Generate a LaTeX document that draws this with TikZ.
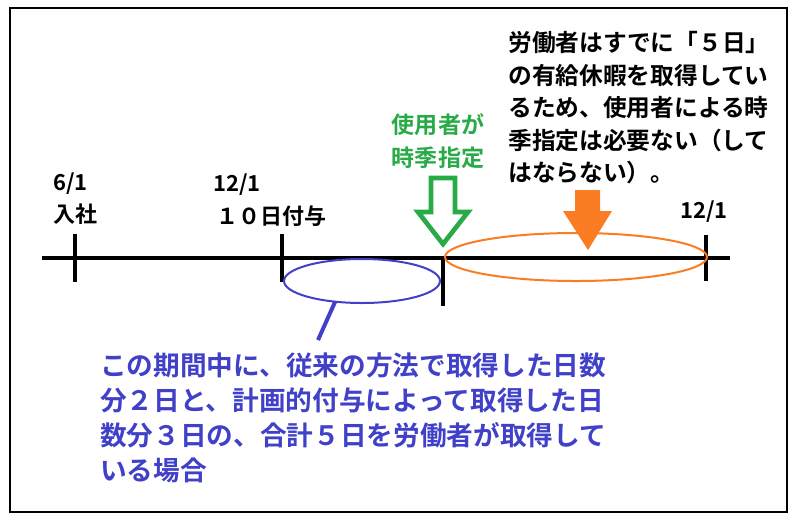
\documentclass[tikz,border=0pt]{standalone}
\usepackage{fontspec}
\newfontfamily\cjk{Noto Sans CJK JP}[BoldFont={Noto Sans CJK JP Bold}]
\definecolor{myblue}{RGB}{64,64,200}
\definecolor{mygreen}{RGB}{40,170,70}
\definecolor{myorange}{RGB}{250,125,35}
\begin{document}
\begin{tikzpicture}[x=0.75pt,y=-0.75pt,
  txt/.style={font=\cjk\bfseries\fontsize{16.5}{23}\selectfont,inner sep=0pt},
  tick/.style={line width=3pt}]
\useasboundingbox (0,0) rectangle (800,526);
\draw[line width=0.8pt] (10,8) rectangle (787,512);
\draw[line width=3pt] (42,258) coordinate (L) -- (730,258) coordinate (R);
\draw[tick] (75,234) -- (75,282);
\draw[tick] (282,234) -- (282,282);
\draw[tick] (443,258) -- (443,306);
\draw[tick] (706,235) -- (706,281);
\node[txt,anchor=west] (a1) at (53,184) {6/1};
\node[txt,anchor=west] (a2) at (53,214) {入社};
\node[txt,anchor=west] (b1) at (213,185) {12/1};
\node[txt,anchor=west] (b2) at (216,216) {１０日付与};
\node[txt,anchor=west] (c1) at (680,212) {12/1};
\draw[myblue,line width=1.5pt] (362,281) ellipse (78 and 22);
\coordinate (bt) at (335,302);
\draw[myblue,line width=3pt] (bt) -- (318,340);
\draw[myorange,line width=1.5pt] (576,257) ellipse (131 and 24);
\draw[mygreen,line width=3.5pt,line join=miter] (431,178) -- (455,178) -- (455,212) -- (468,212) -- (443,244) -- (418,212) -- (431,212) -- cycle;
\fill[myorange] (575,190) -- (600,190) -- (600,211) -- (612,211) -- (588,250) -- (563,211) -- (575,211) -- cycle;
\node[txt,text=mygreen,align=center,font=\cjk\bfseries\fontsize{17.3}{24.4}\selectfont] (g) at (438,141) {使用者が\\時季指定};
\node[txt,anchor=north west,align=left,font=\cjk\bfseries\fontsize{17.8}{24.4}\selectfont] (t) at (508,31) {労働者はすでに「５日」\\の有給休暇を取得してい\\るため、使用者による時\\季指定は必要ない（して\\はならない）。};
\node[txt,anchor=north west,align=left,text=myblue,font=\cjk\bfseries\fontsize{20}{26.3}\selectfont] (u) at (100,352) {この期間中に、従来の方法で取得した日数\\分２日と、計画的付与によって取得した日\\数分３日の、合計５日を労働者が取得して\\いる場合};
\end{tikzpicture}
\end{document}
